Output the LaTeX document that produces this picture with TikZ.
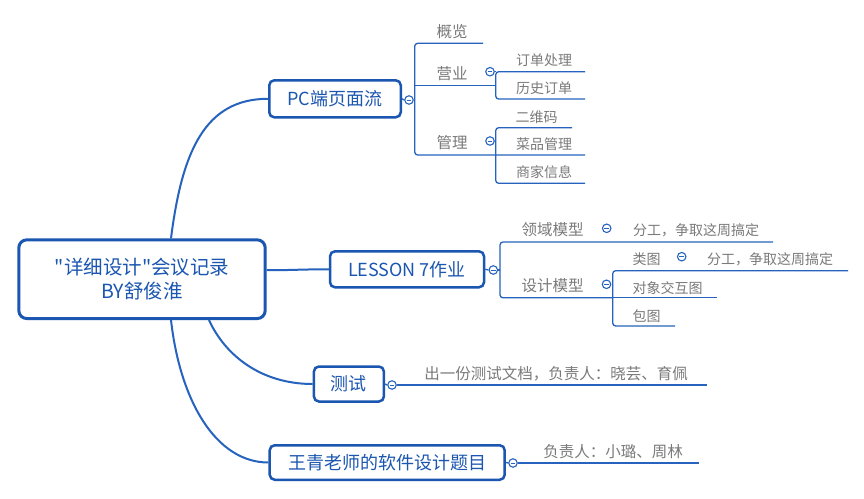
\documentclass[tikz,border=0pt]{standalone}
\usepackage{fontspec}
\setmainfont{Noto Sans CJK SC}
% same face without the TeX quote mapping, for straight quotes
\newfontfamily\straightq{Noto Sans CJK SC}
\definecolor{boxblue}{HTML}{1B56B0}
\definecolor{lineblue}{HTML}{2563BE}
\definecolor{leafgray}{HTML}{7A7A7A}
\begin{document}
\begin{tikzpicture}[x=1pt,y=-1pt,
  rootbox/.style={draw=boxblue,line width=3pt,rounded corners=8pt,fill=white,
    text=boxblue,align=center,inner sep=0pt,font=\fontsize{19.5}{24}\selectfont},
  topicbox/.style={draw=boxblue,line width=2.5pt,rounded corners=5pt,fill=white,
    text=boxblue,inner sep=0pt,font=\fontsize{18}{22}\selectfont},
  subtopic/.style={text=leafgray,inner sep=0pt,font=\fontsize{15.5}{18}\selectfont},
  leaf/.style={text=leafgray,inner sep=0pt,font=\fontsize{14}{17}\selectfont},
  conn/.style={draw=lineblue,line width=2pt},
  branch/.style={draw=lineblue,line width=1.3pt,rounded corners=3pt},
  fold/.style={circle,draw=lineblue,line width=1.1pt,fill=white,minimum size=8.5pt,inner sep=0pt,
    path picture={\draw[lineblue,line width=0.9pt]
      ([xshift=-2.3pt]path picture bounding box.center) --
      ([xshift=2.3pt]path picture bounding box.center);}}
]
\useasboundingbox[fill=white] (0,0) rectangle (864,498);

% ---------- main topics ----------
\node[rootbox,minimum width=246.4pt,minimum height=78.7pt] (root) at (142,279.2)
  {{\straightq"}详细设计{\straightq"}会议记录\\BY舒俊淮};
\node[topicbox,minimum width=131.5pt,minimum height=37pt] (pc) at (335,98.8) {PC端页面流};
\node[topicbox,minimum width=154pt,minimum height=36pt] (ls) at (407,269.3) {LESSON 7作业};
\node[topicbox,minimum width=70pt,minimum height=35pt] (tst) at (348.9,384) {测试};
\node[topicbox,minimum width=235pt,minimum height=34.5pt] (wq) at (387.2,462.5) {王青老师的软件设计题目};

% ---------- root connectors ----------
\draw[conn] ([xshift=29pt]root.north) .. controls +(11,-87) and +(-63,0) .. (pc.west);
\draw[conn] ([yshift=9pt]root.east) .. controls +(28,0) and +(-28,0) .. (ls.west);
\draw[conn] ([xshift=67pt]root.south) .. controls +(16,35) and +(-52,0) .. (tst.west);
\draw[conn] ([xshift=29pt]root.south) .. controls +(9,80) and +(-53,0) .. (wq.west);

% ---------- PC端页面流 ----------
\node[fold] (pcf) at (409,100) {};
\draw[branch] (pc.east) -- (pcf.west);
\coordinate (pcb) at (414.7,100);
\draw[branch] (pcf.east) -- (pcb);

\node[subtopic] (gl) at (452,31.7) {概览};
\node[subtopic] (yy) at (452,74) {营业};
\node[subtopic] (gli) at (452,143) {管理};
\coordinate (glE) at (483,43.3);
\coordinate (pcTop) at (414.7,43.3);
\coordinate (pcBot) at (414.7,155);
\coordinate (yyL) at (414.7,85.3);
\coordinate (yyR) at (495.7,85.3);
\draw[branch] (glE) -- (pcTop) -- (pcBot) -- (585,155) coordinate (cpE);
\draw[branch] (yyL) -- (yyR);

% 营业 children
\node[fold] (yyf) at (490,71.7) {};
\node[leaf] (dd) at (544,60) {订单处理};
\node[leaf] (ls2) at (544,88.3) {历史订单};
\coordinate (ddE) at (585,71.7);
\coordinate (yyT) at (495.7,71.7);
\coordinate (yyB) at (495.7,99);
\coordinate (lsE) at (585,99);
\draw[branch] (yyf.east) -- (yyT);
\draw[branch] (ddE) -- (yyT) -- (yyB) -- (lsE);

% 管理 children
\node[fold] (glf) at (490,141) {};
\node[leaf] (ewm) at (536.7,116.7) {二维码};
\node[leaf] (cp) at (544,144.3) {菜品管理};
\node[leaf] (sj) at (544,172.3) {商家信息};
\coordinate (ewmE) at (572,127.7);
\coordinate (glT) at (495.7,127.7);
\coordinate (glB) at (495.7,183.3);
\coordinate (sjE) at (585,183.3);
\draw[branch] (ewmE) -- (glT) -- (glB) -- (sjE);

% ---------- LESSON 7作业 ----------
\node[fold] (lsf) at (493.3,270) {};
\draw[branch] (ls.east) -- (lsf.west);
\coordinate (lsb) at (500,270);
\draw[branch] (lsf.east) -- (lsb);

\node[subtopic] (ly) at (552.5,230) {领域模型};
\node[fold] (lyf) at (606.7,228.3) {};
\node[leaf] (fg1) at (696,230) {分工，争取这周搞定};
\node[subtopic] (sj2) at (552.5,285.5) {设计模型};
\node[fold] (sjf) at (606.5,284.3) {};
\coordinate (lyE) at (773,242);
\coordinate (lsT) at (500,242);
\coordinate (lsB) at (500,297.8);
\coordinate (sjR) at (612.7,297.8);
\draw[branch] (lyE) -- (lsT) -- (lsB) -- (sjR);

% 设计模型 children
\node[leaf] (lt) at (646.7,259) {类图};
\node[fold] (ltf) at (681.7,256.7) {};
\node[leaf] (fg2) at (770,259) {分工，争取这周搞定};
\node[leaf] (dx) at (667.5,287.7) {对象交互图};
\node[leaf] (bt) at (646.7,316) {包图};
\coordinate (ltE) at (848,270.7);
\coordinate (dsT) at (612.7,270.7);
\coordinate (dsB) at (612.7,326);
\coordinate (btE) at (675,326);
\draw[branch] (ltE) -- (dsT) -- (dsB) -- (btE);
\draw[branch] (sjR) -- (716.7,297.8) coordinate (dxE);

% ---------- 测试 ----------
\node[fold] (tstf) at (392,385) {};
\draw[branch] (tst.east) -- (tstf.west);
\node[subtopic] (csw) at (556,373.3) {出一份测试文档，负责人：晓芸、育佩};
\coordinate (cswE) at (707,385);
\draw[branch] (tstf.east) -- (cswE);

% ---------- 王青老师的软件设计题目 ----------
\node[fold] (wqf) at (513,463) {};
\draw[branch] (wq.east) -- (wqf.west);
\node[subtopic] (fzr) at (613,451.7) {负责人：小璐、周林};
\coordinate (fzrE) at (699,463);
\draw[branch] (wqf.east) -- (fzrE);
\end{tikzpicture}
\end{document}
